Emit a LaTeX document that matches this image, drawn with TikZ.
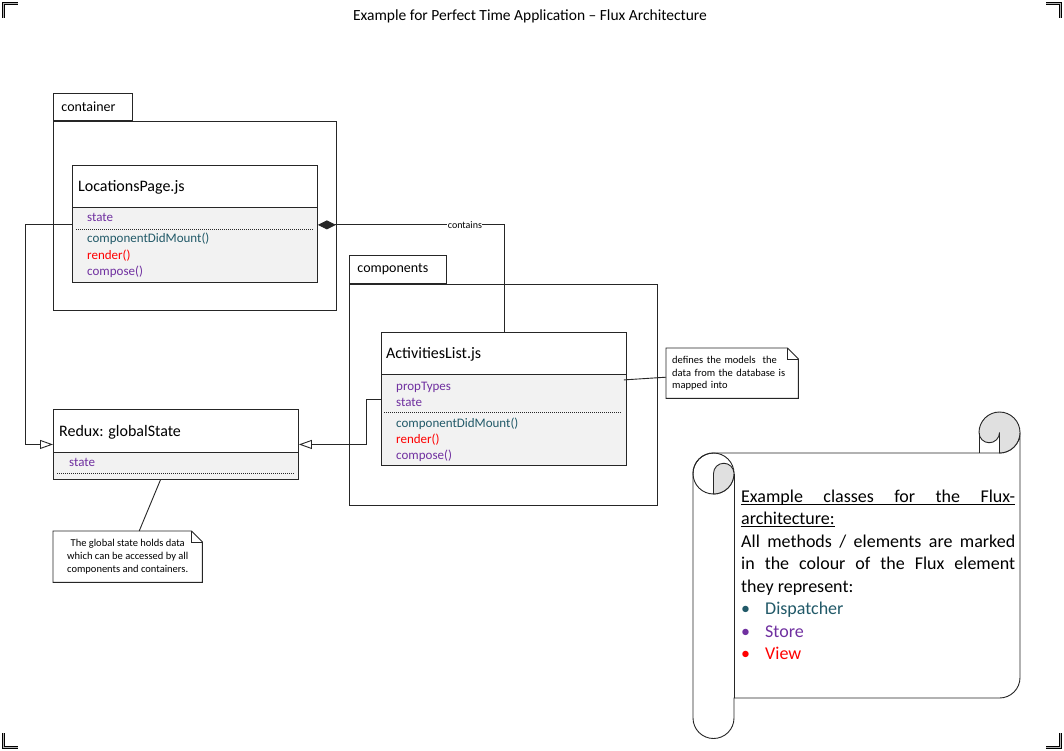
\documentclass[tikz,border=0pt]{standalone}
\usepackage{fontspec}
\setmainfont{Carlito}
\usetikzlibrary{arrows.meta}
\pgfdeclarelayer{background}
\pgfdeclarelayer{foreground}
\pgfsetlayers{background,main,foreground}
\definecolor{dispatchcol}{HTML}{215968}
\definecolor{storecol}{HTML}{7030A0}
\definecolor{viewcol}{HTML}{FF0000}
\definecolor{bodygray}{HTML}{F2F2F2}
\definecolor{rollgray}{HTML}{E0E0E0}
\definecolor{edgecol}{HTML}{262626}
\tikzset{
  umlline/.style={draw=edgecol, line width=0.9pt},
  pkgbody/.style={umlline, rectangle, inner sep=0},
  pkgtab/.style={umlline, rectangle, inner ysep=0, inner xsep=8pt, align=left, font=\fontsize{14}{16}\selectfont},
  classbox/.style={umlline, rectangle, fill=bodygray, inner sep=0},
  classhead/.style={umlline, rectangle, fill=white, inner sep=0},
  classname/.style={anchor=base west, inner sep=0, font=\fontsize{16}{19}\selectfont},
  member/.style={anchor=base west, inner sep=0, font=\fontsize{13}{15}\selectfont},
  sepline/.style={draw=edgecol, line width=0.8pt, dash pattern=on 1pt off 1pt},
  notebox/.style={rectangle, inner sep=0, font=\fontsize{10.5}{13}\selectfont},
  legendline/.style={anchor=base west, inner sep=0, font=\fontsize{18}{22}\selectfont},
  cornermark/.style={draw=black, double=gray!60, double distance=1.4pt, line width=0.5pt},
  inherit/.style={umlline, -{Triangle[open, length=13pt, width=9pt]}}
}
\begin{document}
\begin{tikzpicture}[x=1pt, y=-1pt]
% packages
\begin{pgfonlayer}{background}
\path[use as bounding box, fill=white] (0,0) rectangle (1064,751);
\node[pkgbody, minimum width=283pt, minimum height=189pt, anchor=north west] (containerPkg) at (53,121) {};
\node[pkgtab, text width=63pt, minimum height=27pt, anchor=south west] (containerTab) at (containerPkg.north west) {container};
\node[pkgbody, minimum width=308pt, minimum height=221pt, anchor=north west] (componentsPkg) at (349,284) {};
\node[pkgtab, text width=81pt, minimum height=28pt, anchor=south west] (componentsTab) at (componentsPkg.north west) {components};
\end{pgfonlayer}
% corner marks
\draw[cornermark] (3.5,18) -- (3.5,3.5) -- (18,3.5);
\draw[cornermark] (1046,3.5) -- (1060.5,3.5) -- (1060.5,18);
\draw[cornermark] (3.5,733) -- (3.5,747.5) -- (18,747.5);
\draw[cornermark] (1046,747.5) -- (1060.5,747.5) -- (1060.5,733);
\node[font=\fontsize{15.5}{18}\selectfont, anchor=base, inner sep=0] (title) at (530,21) {Example for Perfect Time Application – Flux Architecture};
% LocationsPage.js
\node[classbox, minimum width=245pt, minimum height=117pt, anchor=north west] (loc) at (72,165) {};
\node[classhead, minimum width=245pt, minimum height=42pt, anchor=north] (locHead) at (loc.north) {};
\node[classname] (locName) at (78,192) {LocationsPage.js};
\node[member, text=storecol] (locState) at (87,222) {state};
\draw[sepline] (76,229) -- (313,229);
\node[member, text=dispatchcol] (locMount) at (87,243) {componentDidMount()};
\node[member, text=viewcol] (locRender) at (87,259) {render()};
\node[member, text=storecol] (locCompose) at (87,275) {compose()};
% ActivitiesList.js
\node[classbox, minimum width=245pt, minimum height=133pt, anchor=north west] (act) at (381,332) {};
\node[classhead, minimum width=245pt, minimum height=42pt, anchor=north] (actHead) at (act.north) {};
\node[classname] (actName) at (386,358) {ActivitiesList.js};
\node[member, text=storecol] (actProps) at (396,390) {propTypes};
\node[member, text=storecol] (actState) at (396,406) {state};
\draw[sepline] (384,412) -- (622,412);
\node[member, text=dispatchcol] (actMount) at (396,427) {componentDidMount()};
\node[member, text=viewcol] (actRender) at (396,443) {render()};
\node[member, text=storecol] (actCompose) at (396,459) {compose()};
% Redux: globalState
\node[classbox, minimum width=245pt, minimum height=70pt, anchor=north west] (redux) at (53,409) {};
\node[classhead, minimum width=245pt, minimum height=43pt, anchor=north] (reduxHead) at (redux.north) {};
\node[classname] (reduxName) at (59,436) {Redux: globalState};
\node[member, text=storecol] (reduxState) at (69,466) {state};
\draw[sepline] (57,473) -- (295,473);
% connectors
\draw[umlline, {Diamond[length=18pt, width=9pt]}-] ([yshift=-17pt]locHead.south east) -| (actHead.north)
  node[pos=0.395, fill=white, inner sep=0.5pt, font=\fontsize{10}{12}\selectfont] (containsLbl) {contains};
\draw[inherit] ([yshift=-17pt]locHead.south west) -- ++(-47,0) |- (redux.west);
\draw[inherit] ([yshift=-25pt]actHead.south west) -- ++(-15,0) |- (redux.east);
% notes
\node[notebox, minimum width=149pt, minimum height=51pt, align=center, anchor=north west] (note1) at (53,531) {The global state holds data\\which can be accessed by all\\components and containers.};
\draw[umlline] (note1.north west) -- ([xshift=-11pt]note1.north east) -- ([yshift=-11pt]note1.north east) -- (note1.south east) -- (note1.south west) -- cycle;
\draw[umlline] ([xshift=-11pt]note1.north east) -- ([xshift=-11pt, yshift=-11pt]note1.north east) -- ([yshift=-11pt]note1.north east);
\draw[umlline] ([xshift=-15.5pt]redux.south) -- ([xshift=11.5pt]note1.north);
\node[notebox, text width=120pt, inner xsep=6pt, minimum height=50pt, align=left, anchor=north west, font=\fontsize{10.5}{12.5}\selectfont] (note2) at (666,348) {defines the models~ the\\data from the database is\\mapped into};
\draw[umlline] (note2.north west) -- ([xshift=-11pt]note2.north east) -- ([yshift=-11pt]note2.north east) -- (note2.south east) -- (note2.south west) -- cycle;
\draw[umlline] ([xshift=-11pt]note2.north east) -- ([xshift=-11pt, yshift=-11pt]note2.north east) -- ([yshift=-11pt]note2.north east);
\draw[umlline] ([xshift=-3pt, yshift=-5pt]actHead.south east) -- ([yshift=-4pt]note2.west);
% scroll
\draw[umlline, fill=white] (693,473.5) arc[start angle=180, end angle=90, radius=20.5pt] -- (999.5,453)
  arc[start angle=-90, end angle=0, radius=20.5pt] -- (1020,677.5)
  arc[start angle=0, end angle=-90, radius=20.5pt] -- (734,698) -- (734,718)
  arc[start angle=0, end angle=-180, radius=20.5pt] -- cycle;
\draw[umlline] (734,473.5) -- (734,698);
\draw[umlline] (713.5,473.5) circle[radius=20.5pt];
\filldraw[umlline, fill=rollgray] (713.5,473.5) arc[start angle=180, end angle=0, radius=10.25pt]
  arc[start angle=0, end angle=-90, radius=20.5pt] -- cycle;
\filldraw[umlline, fill=rollgray] (979,432.5) arc[start angle=180, end angle=-90, radius=20.5pt]
  -- (999.5,432.5) arc[start angle=0, end angle=-180, radius=10.25pt] -- cycle;
\draw[umlline] (979,432.5) -- (979,453);
% legend text
\node[legendline] (legend1) at (741,502.3) {\makebox[274pt][s]{Example classes for the Flux-}};
\node[legendline] (legend2) at (741,524.8) {architecture:};
\draw[black, line width=0.8pt] ([yshift=-2pt]legend1.base west) -- ([yshift=-2pt]legend1.base east);
\draw[black, line width=0.8pt] ([yshift=-2pt]legend2.base west) -- ([yshift=-2pt]legend2.base east);
\node[legendline] (legend3) at (741,547.3) {\makebox[274pt][s]{All methods / elements are marked}};
\node[legendline] (legend4) at (741,569.8) {\makebox[274pt][s]{in the colour of the Flux element}};
\node[legendline] (legend5) at (741,592.3) {they represent:};
\node[legendline, text=dispatchcol] (legend6) at (741,614.8) {\makebox[24pt][l]{\textbullet}Dispatcher};
\node[legendline, text=storecol] (legend7) at (741,637.3) {\makebox[24pt][l]{\textbullet}Store};
\node[legendline, text=viewcol] (legend8) at (741,659.8) {\makebox[24pt][l]{\textbullet}View};
\end{tikzpicture}
\end{document}
